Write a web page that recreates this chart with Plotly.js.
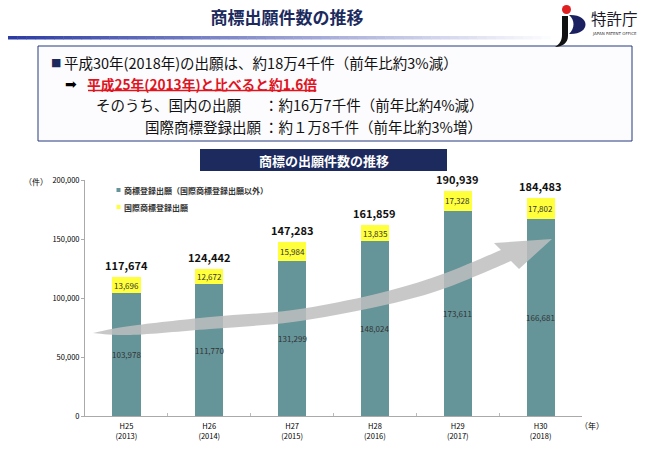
<!DOCTYPE html>
<html><head><meta charset="utf-8">
<script src="https://cdn.plot.ly/plotly-3.0.1.min.js"></script>
<style>html,body{margin:0;padding:0;background:#fff;}#chart{width:650px;height:450px;}</style>
</head><body><div id="chart"></div>
<script>
// ---- data ----
const categories = ['H25<br>(2013)','H26<br>(2014)','H27<br>(2015)','H28<br>(2016)','H29<br>(2017)','H30<br>(2018)'];
const domestic = [103978,111770,131299,148024,173611,166681];
const international = [13696,12672,15984,13835,17328,17802];
const totals = [117674,124442,147283,161859,190939,184483];
const seriesNames = ['商標登録出願（国際商標登録出願以外）','国際商標登録出願'];
const yTicks = [0,50000,100000,150000,200000];

// ---- layout helpers (pixel -> paper) ----
const L=85, W=497, B=416, H=236;
const px = x => (x-L)/W;
const py = y => (B-y)/H;
const FONT = '"Noto Sans CJK JP", "Noto Sans", "DejaVu Sans", sans-serif';
const fmt = v => v.toLocaleString('en-US');

const teal = '#659599', yellow = '#ffff3c', navy = '#1c2a5e', red = '#e0141e';

const traces = [
  {type:'bar', name:seriesNames[0], x:categories, y:domestic, marker:{color:teal}, hoverinfo:'y'},
  {type:'bar', name:seriesNames[1], x:categories, y:international, marker:{color:yellow}, hoverinfo:'y'}
];

const annotations = [];
const shapes = [];
function note(x, y, text, font, xanchor, extra){
  annotations.push(Object.assign({xref:'paper', yref:'paper', x:px(x), y:py(y), text, showarrow:false,
    xanchor:xanchor||'center', yanchor:'middle', font}, extra||{}));
}

// bar labels
categories.forEach((c,i)=>{
  annotations.push({x:c, y:domestic[i]/2, xref:'x', yref:'y', text:fmt(domestic[i]), showarrow:false,
    font:{family:FONT, size:8, color:'#333'}});
  annotations.push({x:c, y:domestic[i]+international[i]/2, xref:'x', yref:'y', text:fmt(international[i]), showarrow:false,
    font:{family:FONT, size:8, color:'#333'}});
  annotations.push({x:c, y:totals[i], xref:'x', yref:'y', text:'<b>'+fmt(totals[i])+'</b>', showarrow:false,
    yanchor:'bottom', yshift:2, font:{family:FONT, size:11, color:'#111'}});
});

// unit labels
note(36, 181, '（件）', {family:FONT,size:8,color:'#000'});
note(592, 425, '（年）', {family:FONT,size:8,color:'#000'});

// manual legend
[[teal,190],[yellow,207]].forEach((p,k)=>{
  shapes.push({type:'rect', xref:'paper', yref:'paper', x0:px(116.5), x1:px(120.5), y0:py(p[1]-2), y1:py(p[1]+2), fillcolor:p[0], line:{width:0}});
  note(121.5, p[1], '<b>'+seriesNames[k]+'</b>', {family:FONT,size:8,color:'#333'}, 'left');
});

// gradient rule under title
const N=60, gx0=8, gx1=560;
for(let k=0;k<N;k++){
  const t=k/(N-1);
  const r=Math.round(45+(255-45)*t), g=Math.round(60+(255-60)*t), b=Math.round(165+(255-165)*t);
  shapes.push({type:'rect', xref:'paper', yref:'paper', x0:px(gx0+(gx1-gx0)*k/N), x1:px(gx0+(gx1-gx0)*(k+1)/N)+0.001,
    y0:py(36), y1:py(39.5), fillcolor:`rgb(${r},${g},${b})`, line:{width:0}});
}

// summary box
shapes.push({type:'rect', xref:'paper', yref:'paper', x0:px(38), x1:px(632), y0:py(46), y1:py(141), fillcolor:'#fcfcfe', line:{color:'#243a7c',width:1}});
const boxFont = {family:FONT, size:14.5, color:'#111'};
const tight = {borderpad:0};
const rowY = [62.5, 83.7, 104.9, 126.1];
const redText = '平成25年(2013年)と比べると約1.6倍';
note(50, rowY[0], '■', {family:'DejaVu Sans',size:11,color:'#1c2a5e'}, 'left', tight);
note(63, rowY[0], '平成30年(2018年)の出願は、約18万4千件（前年比約3%減）', boxFont, 'left', tight);
note(64, rowY[1], '➡', {family:'DejaVu Sans',size:14,color:'#000'}, 'left', tight);
note(86, rowY[1], '<b>'+redText+'</b>', {family:FONT,size:13.7,color:red}, 'left', tight);
note(95, rowY[2], 'そのうち、国内の出願', boxFont, 'left', tight);
note(262.5, rowY[2], '：約16万7千件（前年比約4%減）', boxFont, 'left', tight);
note(261.5, rowY[3], '国際商標登録出願', boxFont, 'right', tight);
note(262.5, rowY[3], '：約１万8千件（前年比約3%増）', boxFont, 'left', tight);

// chart banner
shapes.push({type:'rect', xref:'paper', yref:'paper', x0:px(200), x1:px(447), y0:py(149), y1:py(171), fillcolor:navy, line:{width:0}});
note(323.5, 160, '<b>商標の出願件数の推移</b>', {family:FONT,size:13,color:'#fff'});

// logo
shapes.push({type:'circle', xref:'paper', yref:'paper', x0:px(562), x1:px(571), y0:py(5), y1:py(14), fillcolor:'#e02020', line:{width:0}});
const stem = `M${px(562)},${py(16)} L${px(568)},${py(16)} L${px(568)},${py(36)} C${px(568)},${py(43)} ${px(562)},${py(47)} ${px(555)},${py(47)} C${px(560)},${py(44)} ${px(562)},${py(40)} ${px(562)},${py(35)} Z`;
shapes.push({type:'path', xref:'paper', yref:'paper', fillcolor:'#111', line:{width:0}, path:stem});
shapes.push({type:'path', xref:'paper', yref:'paper', fillcolor:'#1a2060', line:{width:0},
  path:`M${px(569)},${py(15)} C${px(591)},${py(14)} ${px(591)},${py(35)} ${px(569)},${py(34)} C${px(575)},${py(28)} ${px(575)},${py(20)} ${px(569)},${py(15)} Z`});
note(590, 18.5, '特許庁', {family:FONT,size:15.5,color:'#1a1a2a'}, 'left', tight);
note(591, 33.5, 'JAPAN PATENT OFFICE', {family:'DejaVu Sans',size:4,color:'#333'}, 'left', tight);

// curved arrow (decoration)
function cr(points){ // Catmull-Rom -> cubic bezier string (pixel coords converted to paper)
  let s='';
  for(let i=0;i<points.length-1;i++){
    const p0=points[Math.max(0,i-1)], p1=points[i], p2=points[i+1], p3=points[Math.min(points.length-1,i+2)];
    const c1=[p1[0]+(p2[0]-p0[0])/6, p1[1]+(p2[1]-p0[1])/6];
    const c2=[p2[0]-(p3[0]-p1[0])/6, p2[1]-(p3[1]-p1[1])/6];
    s+=` C${px(c1[0])},${py(c1[1])} ${px(c2[0])},${py(c2[1])} ${px(p2[0])},${py(p2[1])}`;
  }
  return s;
}
const upper=[[93,333],[130,326],[210,317],[293,310],[376,294],[440,275],[501,250]];
const lower=[[511,261],[440,290],[376,307],[293,322],[210,329],[130,335],[93,333]];
let ap = `M${px(93)},${py(333)}` + cr(upper);
ap += ` L${px(494)},${py(243)} L${px(552)},${py(239)} L${px(519)},${py(269)} L${px(511)},${py(261)}`;
ap += cr(lower) + ' Z';
shapes.push({type:'path', xref:'paper', yref:'paper', path:ap, fillcolor:'rgba(190,190,190,0.85)', line:{width:0}, layer:'above'});

const layout = {
  width:650, height:450,
  margin:{l:L, r:650-L-W, t:180, b:450-B},
  paper_bgcolor:'#fff', plot_bgcolor:'#fff',
  title:{text:'<b>商標出願件数の推移</b>', x:287/650, xanchor:'center', y:1-18/450, yanchor:'middle', font:{family:FONT,size:17,color:navy}},
  barmode:'stack', bargap:0.66, showlegend:false,
  font:{family:FONT, color:'#000'},
  xaxis:{type:'category', showline:true, linecolor:'#aaa', linewidth:1, ticks:'inside', tickson:'boundaries', ticklen:3, tickcolor:'#bbb',
    ticklabelstandoff:3, tickfont:{family:FONT,size:7.5,color:'#000'}, showgrid:false, fixedrange:true},
  yaxis:{range:[0,200000], tickvals:yTicks, tickformat:',', showline:true, linecolor:'#aaa', linewidth:1, ticks:'outside', ticklen:3, tickcolor:'#aaa',
    tickfont:{family:FONT,size:7.5,color:'#000'}, showgrid:false, zeroline:false, fixedrange:true},
  annotations, shapes
};
Plotly.newPlot('chart', traces, layout, {displayModeBar:false, staticPlot:true}).then(gd=>{
  // underline the red sentence, measured from where it was actually drawn
  let target=null;
  gd.querySelectorAll('.annotation-text').forEach(t=>{ if(t.textContent===redText) target=t; });
  if(target){
    const r=target.getBoundingClientRect();
    const ul={type:'line', xref:'paper', yref:'paper', x0:px(r.left+1), x1:px(r.right-1), y0:py(r.bottom-3.5), y1:py(r.bottom-3.5), line:{color:red,width:1.3}};
    Plotly.relayout(gd, {shapes: shapes.concat([ul])});
  }
});
</script></body></html>
